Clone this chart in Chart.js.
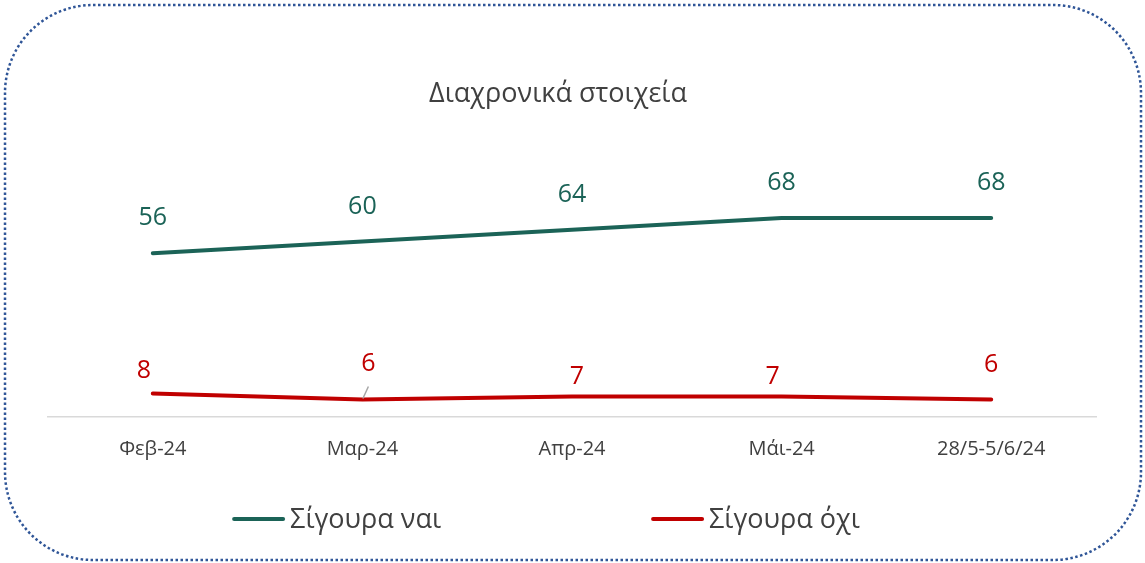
<!DOCTYPE html>
<html>
<head>
<meta charset="utf-8">
<script src="https://cdn.jsdelivr.net/npm/chart.js@4.4.1/dist/chart.umd.min.js"></script>
<style>
  html, body { margin: 0; padding: 0; background: #ffffff; }
  #wrap { width: 1145px; height: 563px; position: relative; }
</style>
</head>
<body>
<div id="wrap"><canvas id="c" width="1145" height="563"></canvas></div>
<script>
// ---- data ----
const categories = ['Φεβ-24', 'Μαρ-24', 'Απρ-24', 'Μάι-24', '28/5-5/6/24'];
const seriesYes = [56, 60, 64, 68, 68];
const seriesNo = [8, 6, 7, 7, 6];
const seriesNames = ['Σίγουρα ναι', 'Σίγουρα όχι'];
const chartTitle = 'Διαχρονικά στοιχεία';

const GREEN = '#1B6357';
const RED = '#C00000';
const TEXT = '#404040';
const FONT = "'Open Sans', 'DejaVu Sans', sans-serif";

// label placement tweaks (dx, dy above point)
const labelPlacement = {
  0: { dx: [0, 0, 0, 0, 0], dy: [35, 35, 35, 35, 35] },
  1: { dx: [-9, 6, 5, -9, 0], dy: [23, 36, 20, 20, 35], leader: [false, true, false, false, false] }
};

const borderPlugin = {
  id: 'roundBorder',
  beforeDraw(chart) {
    const ctx = chart.ctx;
    ctx.save();
    ctx.fillStyle = '#ffffff';
    ctx.fillRect(0, 0, chart.width, chart.height);
    ctx.strokeStyle = '#2F5597';
    ctx.lineWidth = 2.5;
    ctx.setLineDash([2.5, 2.5]);
    ctx.beginPath();
    ctx.roundRect(5, 5, chart.width - 9, chart.height - 8, 88);
    ctx.stroke();
    ctx.restore();
  }
};

const titlePlugin = {
  id: 'titleText',
  afterDraw(chart) {
    const ctx = chart.ctx;
    const ca = chart.chartArea;
    ctx.save();
    ctx.font = "27px " + FONT;
    ctx.fillStyle = TEXT;
    ctx.textAlign = 'center';
    ctx.textBaseline = 'middle';
    ctx.fillText(chartTitle, (ca.left + ca.right) / 2 - 14, 94);
    ctx.restore();
  }
};

const labelPlugin = {
  id: 'valueLabels',
  afterDatasetsDraw(chart) {
    const ctx = chart.ctx;
    ctx.save();
    ctx.font = "25px " + FONT;
    ctx.textAlign = 'center';
    ctx.textBaseline = 'middle';
    chart.data.datasets.forEach((ds, di) => {
      const meta = chart.getDatasetMeta(di);
      const pl = labelPlacement[di];
      meta.data.forEach((pt, i) => {
        const x = pt.x + pl.dx[i];
        const y = pt.y - pl.dy[i];
        if (pl.leader && pl.leader[i]) {
          ctx.strokeStyle = '#A6A6A6';
          ctx.lineWidth = 1.5;
          ctx.beginPath();
          ctx.moveTo(pt.x + 0.5, pt.y - 1);
          ctx.lineTo(pt.x + 6, pt.y - 13);
          ctx.stroke();
        }
        ctx.fillStyle = ds.borderColor;
        ctx.fillText(String(ds.data[i]), x, y);
      });
    });
    ctx.restore();
  }
};

const legendPlugin = {
  id: 'customLegend',
  afterDraw(chart) {
    const ctx = chart.ctx;
    ctx.save();
    ctx.font = "27px " + FONT;
    ctx.textBaseline = 'middle';
    ctx.textAlign = 'left';
    const lineW = 53, gap = 5, between = 210;
    const items = chart.data.datasets.map(ds => ({
      text: ds.label, color: ds.borderColor, w: lineW + gap + ctx.measureText(ds.label).width
    }));
    const total = items.reduce((s, it) => s + it.w, 0) + between * (items.length - 1);
    let x = 546 - total / 2;
    const y = 519;
    items.forEach(it => {
      ctx.strokeStyle = it.color;
      ctx.lineWidth = 4;
      ctx.lineCap = 'round';
      ctx.beginPath();
      ctx.moveTo(x + 2, y);
      ctx.lineTo(x + lineW - 2, y);
      ctx.stroke();
      ctx.fillStyle = TEXT;
      ctx.fillText(it.text, x + lineW + gap, y + 1);
      x += it.w + between;
    });
    ctx.restore();
  }
};

new Chart(document.getElementById('c'), {
  type: 'line',
  data: {
    labels: categories,
    datasets: [
      { label: seriesNames[0], data: seriesYes, borderColor: GREEN, backgroundColor: GREEN,
        borderWidth: 4, pointRadius: 0, tension: 0, borderCapStyle: 'round', borderJoinStyle: 'round' },
      { label: seriesNames[1], data: seriesNo, borderColor: RED, backgroundColor: RED,
        borderWidth: 4, pointRadius: 0, tension: 0, borderCapStyle: 'round', borderJoinStyle: 'round' }
    ]
  },
  options: {
    responsive: false,
    animation: false,
    layout: { padding: { left: 48, right: 49, top: 183, bottom: 82 } },
    plugins: {
      legend: { display: false },
      tooltip: { enabled: false },
      title: { display: false }
    },
    scales: {
      x: {
        offset: true,
        grid: { display: false, drawTicks: false },
        border: { display: true, color: '#D9D9D9', width: 1.5 },
        ticks: { color: TEXT, font: { family: FONT, size: 20 }, padding: 20, maxRotation: 0 }
      },
      y: {
        display: false,
        min: 0,
        max: 80
      }
    }
  },
  plugins: [borderPlugin, titlePlugin, labelPlugin, legendPlugin]
});
</script>
</body>
</html>
